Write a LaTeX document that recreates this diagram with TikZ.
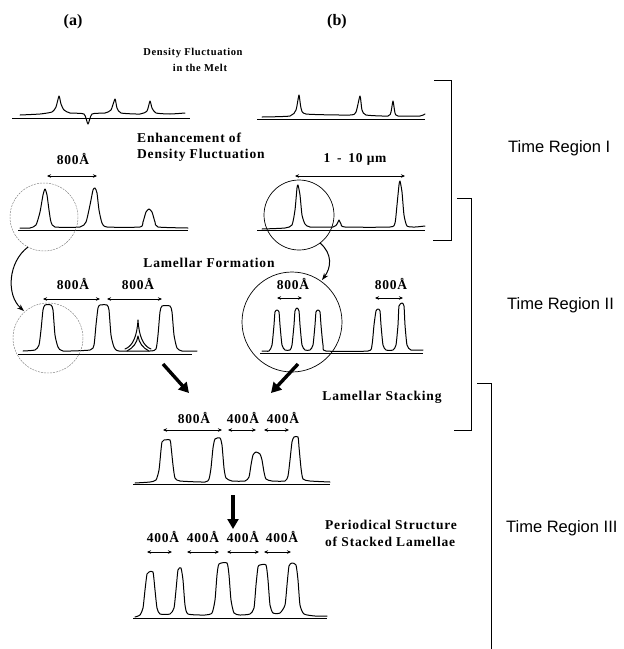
\documentclass[tikz,border=0pt]{standalone}
\usepackage{fontspec}
\setmainfont{Liberation Serif}
\newfontfamily\labfont[LetterSpace=6]{Liberation Serif}
\newfontfamily\regfont{Liberation Sans}
\usetikzlibrary{arrows.meta}

\tikzset{
  trace/.style={line width=1pt, line join=round, line cap=round},
  base/.style={line width=0.8pt},
  dim/.style={{Stealth[length=4pt,width=3.5pt]}-{Stealth[length=4pt,width=3.5pt]}, line width=0.6pt},
  fat/.style={-{Triangle[length=10pt,width=11pt]}, line width=3.4pt},
  bendarrow/.style={-{Stealth[length=7pt,width=5pt]}, line width=1pt},
  dots/.style={gray, line width=0.45pt, dash pattern=on 2pt off 1pt},
  ring/.style={line width=0.7pt},
  bracket/.style={line width=0.8pt},
  head/.style={font={\labfont\bfseries\fontsize{13.5}{15}\selectfont}, inner sep=0pt},
  small head/.style={font={\labfont\bfseries\fontsize{10.5}{12}\selectfont}, inner sep=0pt},
  dimlab/.style={font={\labfont\bfseries\fontsize{13.5}{15}\selectfont}, inner sep=0pt},
  caption/.style={font={\bfseries\fontsize{16}{18}\selectfont}, inner sep=0pt},
  region/.style={font={\regfont\fontsize{16.5}{18}\selectfont}, anchor=west, inner sep=0pt},
}

\begin{document}
\begin{tikzpicture}[x=1pt,y=-1pt]
  \useasboundingbox (0,0) rectangle (624,649);

  % column headers and stage titles
  \node[caption] (capa) at (73,22) {(a)};
  \node[caption] (capb) at (337,22) {(b)};
  \node[small head] (melt1) at (193,53) {Density Fluctuation};
  \node[small head] (melt2) at (200,68) {in the Melt};
  \node[head, anchor=west] (enh1) at (137,138) {Enhancement of};
  \node[head, anchor=west] (enh2) at (137,155) {Density Fluctuation};
  \node[head] (form) at (209,263) {Lamellar Formation};
  \node[head] (stack) at (382,397) {Lamellar Stacking};
  \node[head, anchor=west] (per1) at (325,525) {Periodical Structure};
  \node[head, anchor=west] (per2) at (325,542) {of Stacked Lamellae};

  % time regions
  \node[region] (tr1) at (508,148) {Time Region I};
  \node[region] (tr2) at (507,305) {Time Region II};
  \node[region] (tr3) at (506,528) {Time Region III};

  \coordinate (b1a) at (434,80);  \coordinate (b1b) at (451,80);
  \coordinate (b1c) at (451,240); \coordinate (b1d) at (433,240);
  \coordinate (b2a) at (457,198); \coordinate (b2b) at (471,198);
  \coordinate (b2c) at (471,430); \coordinate (b2d) at (454,430);
  \coordinate (b3a) at (477,383); \coordinate (b3b) at (491,383);
  \coordinate (b3c) at (491,649);
  \draw[bracket] (b1a) -- (b1b) -- (b1c) -- (b1d);
  \draw[bracket] (b2a) -- (b2b) -- (b2c) -- (b2d);
  \draw[bracket] (b3a) -- (b3b) -- (b3c);

  % row 1 : melt
  \draw[base] (12,118) -- (190,118);
  \draw[trace] plot[smooth, tension=0.35] coordinates {(20,115) (40,114) (52,112) (56,107) (59,96) (61,104) (64,110) (70,113) (84,114) (88,124) (92,114) (105,113) (111,110) (115,99) (117,108) (121,113) (140,114) (147,111) (150,101) (152,108) (156,113) (170,114) (185,113)};
  \draw[base] (257,119) -- (425,119);
  \draw[trace] plot[smooth, tension=0.35] coordinates {(262,117) (290,116) (296,110) (299,95) (301,108) (306,114) (350,115) (356,112) (360,96) (362,110) (366,115) (388,116) (391,112) (393,101) (395,113) (398,116) (420,116) (425,114)};

  % row 2 : enhancement
  \draw[base] (18,230) -- (188,230);
  \draw[trace] plot[smooth, tension=0.35] coordinates {(20,228) (30,228) (36,225) (40,212) (43,195) (45,189) (47,195) (49,210) (51,222) (55,227) (80,227) (86,222) (90,205) (93,190) (95,188) (97,193) (99,210) (102,223) (107,227) (140,227) (143,222) (146,212) (149,209) (152,212) (155,222) (158,227) (188,228)};
  \coordinate (d1l) at (47,176); \coordinate (d1r) at (97,176);
  \draw[dim] (d1l) -- (d1r);
  \node[dimlab] (l1) at (73,159) {800Å};
  \draw[dots] (44,217) circle[radius=34];

  \draw[base] (257,230) -- (425,230);
  \draw[trace] plot[smooth, tension=0.35] coordinates {(262,229) (285,228) (292,225) (295,210) (297,188) (298,185) (300,195) (302,215) (305,224) (310,227) (333,227) (337,224) (339,220) (341,224) (345,227) (390,227) (395,223) (397,205) (399,185) (400,181) (402,192) (404,215) (407,226) (415,227) (425,226)};
  \coordinate (d2l) at (295,176); \coordinate (d2r) at (405,176);
  \draw[dim] (d2l) -- (d2r);
  \node[dimlab] (l2) at (355,159) {1\enspace-\enspace10 μm};
  \draw[ring] (299,215) circle[radius=35];

  % zoom arrows
  \coordinate (za1) at (28,247); \coordinate (za2) at (24,311);
  \draw[bendarrow] (za1) .. controls (8,262) and (6,295) .. (za2);
  \coordinate (zb1) at (320,243); \coordinate (zb2) at (322,280);
  \draw[bendarrow] (zb1) .. controls (333,254) and (331,268) .. (zb2);

  % row 3 : lamellar formation
  \draw[base] (18,354) -- (192,354);
  \draw[trace] plot[smooth, tension=0.35] coordinates {(23,351) (35,350) (39,345) (41,330) (43,310) (45,305) (51,305) (53,310) (55,335) (58,347) (63,351) (90,350) (94,345) (96,325) (98,308) (100,305) (107,305) (109,310) (111,335) (114,347) (119,351) (150,351) (156,349) (158,335) (160,312) (162,306) (170,306) (172,312) (174,335) (177,348) (182,351) (197,351)};
  \draw[trace] (125,349) .. controls (133,346) and (137,336) .. (138,320) .. controls (139,336) and (143,346) .. (151,349);
  \draw[trace] (127,351) .. controls (133,348) and (137,343) .. (138,336) .. controls (139,343) and (143,348) .. (149,351);
  \coordinate (d3l) at (43,299); \coordinate (d3r) at (100,299);
  \draw[dim] (d3l) -- (d3r);
  \node[dimlab] (l3) at (73,284) {800Å};
  \coordinate (d4l) at (107,299); \coordinate (d4r) at (162,299);
  \draw[dim] (d4l) -- (d4r);
  \node[dimlab] (l4) at (138,284) {800Å};
  \draw[dots] (48,338) circle[radius=35];

  \draw[base] (260,353) -- (423,353);
  \draw[trace] plot[smooth, tension=0.35] coordinates {(262,351) (269,351) (272,345) (274,325) (275,312) (277,310) (279,312) (280,325) (282,345) (285,350) (290,350) (292,345) (294,325) (295,311) (297,308) (299,311) (300,325) (302,345) (305,350) (310,350) (313,345) (315,325) (316,312) (318,310) (320,312) (321,325) (323,345) (326,351) (368,351) (372,345) (374,325) (376,311) (378,309) (380,311) (381,325) (383,345) (386,350) (393,350) (396,345) (398,325) (399,306) (402,303) (404,306) (405,325) (407,345) (411,350) (423,350)};
  \coordinate (d5l) at (277,298); \coordinate (d5r) at (302,298);
  \draw[dim] (d5l) -- (d5r);
  \node[dimlab] (l5) at (293,284) {800Å};
  \coordinate (d6l) at (375,298); \coordinate (d6r) at (403,298);
  \draw[dim] (d6l) -- (d6r);
  \node[dimlab] (l6) at (391,284) {800Å};
  \draw[ring] (292,322) circle[radius=50];

  % merging arrows
  \coordinate (fa1) at (163,364); \coordinate (fa2) at (189,393);
  \draw[fat] (fa1) -- (fa2);
  \coordinate (fb1) at (298,364); \coordinate (fb2) at (271,393);
  \draw[fat] (fb1) -- (fb2);

  % row 4 : stacking
  \draw[base] (133,484) -- (330,484);
  \draw[trace] plot[smooth, tension=0.35] coordinates {(135,483) (150,482) (156,480) (159,470) (161,450) (162,442) (164,440) (170,440) (171,446) (173,465) (175,478) (180,481) (205,482) (209,479) (211,468) (213,448) (215,439) (220,438) (222,445) (224,468) (226,478) (232,481) (245,481) (249,477) (251,465) (253,455) (256,452) (260,454) (262,460) (264,472) (266,479) (272,481) (285,481) (288,476) (290,460) (292,442) (294,437) (298,437) (299,447) (301,468) (303,479) (310,481) (330,482)};
  \coordinate (d7l) at (163,430); \coordinate (d7r) at (222,430);
  \draw[dim] (d7l) -- (d7r);
  \node[dimlab] (l7) at (194,418) {800Å};
  \coordinate (d8l) at (228,430); \coordinate (d8r) at (256,430);
  \draw[dim] (d8l) -- (d8r);
  \node[dimlab] (l8) at (243,418) {400Å};
  \coordinate (d9l) at (264,430); \coordinate (d9r) at (289,430);
  \draw[dim] (d9l) -- (d9r);
  \node[dimlab] (l9) at (283,418) {400Å};

  \coordinate (dn1) at (233,495); \coordinate (dn2) at (233,529);
  \draw[fat] (dn1) -- (dn2);

  % row 5 : periodic stack
  \draw[base] (133,618) -- (327,618);
  \draw[trace] plot[smooth, tension=0.35] coordinates {(135,617) (140,615) (143,608) (145,590) (147,574) (149,572) (153,572) (155,590) (157,608) (160,614) (170,614) (174,608) (176,590) (178,570) (181,568) (183,580) (185,605) (188,614) (205,615) (212,613) (215,600) (217,575) (219,564) (227,563) (229,575) (231,600) (234,613) (240,615) (250,614) (254,608) (256,585) (258,567) (260,565) (266,565) (268,580) (270,605) (273,613) (280,613) (285,605) (287,585) (289,566) (292,563) (296,565) (298,580) (300,605) (304,614) (315,616) (327,616)};
  \coordinate (e1l) at (147,552); \coordinate (e1r) at (172,552);
  \draw[dim] (e1l) -- (e1r);
  \node[dimlab] (m1) at (163,537) {400Å};
  \coordinate (e2l) at (187,552); \coordinate (e2r) at (219,552);
  \draw[dim] (e2l) -- (e2r);
  \node[dimlab] (m2) at (203,537) {400Å};
  \coordinate (e3l) at (227,552); \coordinate (e3r) at (259,552);
  \draw[dim] (e3l) -- (e3r);
  \node[dimlab] (m3) at (243,537) {400Å};
  \coordinate (e4l) at (264,552); \coordinate (e4r) at (291,552);
  \draw[dim] (e4l) -- (e4r);
  \node[dimlab] (m4) at (282,537) {400Å};

\end{tikzpicture}
\end{document}
